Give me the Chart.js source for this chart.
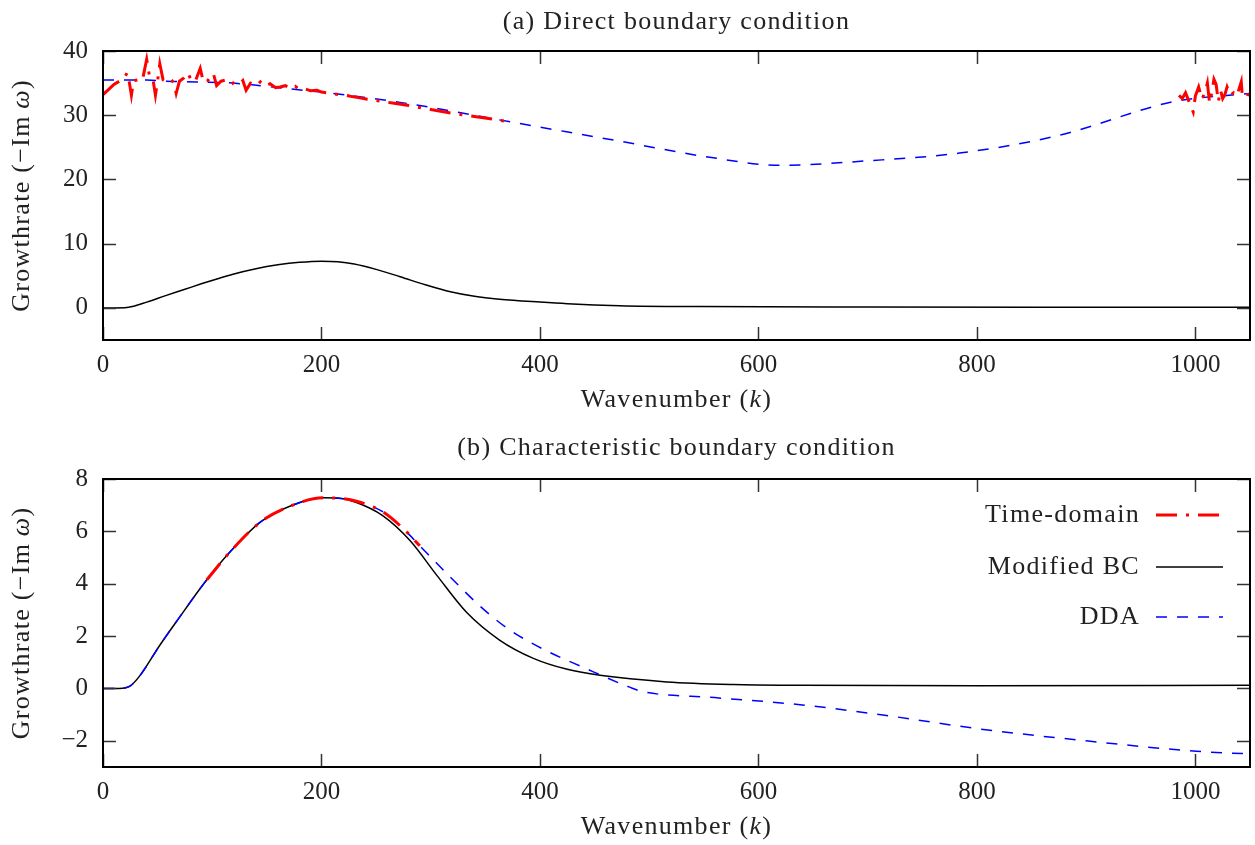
<!DOCTYPE html>
<html>
<head>
<meta charset="utf-8">
<script src="https://cdn.jsdelivr.net/npm/chart.js@4.4.1/dist/chart.umd.min.js"></script>
<style>
  body { margin: 0; background: #fff; width: 1255px; height: 845px; overflow: hidden; }
  .panel { position: absolute; left: 0; width: 1255px; }
</style>
</head>
<body>
<div class="panel" style="top:0;height:422px"><canvas id="chartA" width="1255" height="422"></canvas></div>
<div class="panel" style="top:422px;height:423px"><canvas id="chartB" width="1255" height="423"></canvas></div>
<script>
// tick labels
const kTicks = [0, 200, 400, 600, 800, 1000];
const gTicksA = [0, 10, 20, 30, 40];
const gTicksB = [-2, 0, 2, 4, 6, 8];

// (a) direct boundary condition
const kA_mod = [0, 10, 20, 28, 40, 58, 75, 90, 105, 119, 140, 160, 180, 200, 215, 230, 250, 272, 295, 318, 340, 363, 400, 425, 473, 546, 700, 850, 1050];
const gA_mod = [0, 0, 0.02, 0.25, 0.9, 1.95, 2.9, 3.75, 4.55, 5.25, 6.1, 6.7, 7.1, 7.28, 7.2, 6.85, 6.0, 4.85, 3.6, 2.5, 1.8, 1.35, 0.9, 0.65, 0.35, 0.2, 0.12, 0.1, 0.1];

const kA_dda = [0, 40, 58, 119, 165, 210, 272, 299, 375, 475, 550, 620, 700, 784, 876, 967, 986, 1050];
const gA_dda = [35.5, 35.5, 35.3, 35.0, 34.2, 33.4, 32.0, 31.25, 28.9, 25.9, 23.6, 22.2, 22.9, 24.1, 26.9, 31.6, 32.3, 33.4];

const kA_td = [0, 5, 10, 15, 19, 22, 24, 26, 28, 32, 36, 40, 43, 46, 48, 50, 52, 55, 58, 62, 65, 67, 70, 74, 78, 81, 85, 89, 92, 96,
  101, 104, 108, 113, 117, 121, 125, 128, 131, 135, 140, 144, 148, 153, 158, 162, 167, 172, 176, 180, 185, 190, 196, 200, 205,
  210, 216, 222, 228, 235, 242, 250, 265, 280, 300, 320, 340, 360, 375, 680,
  985, 988, 991, 994, 998, 1000, 1003, 1006, 1009, 1011, 1013, 1015, 1017, 1019, 1021, 1023, 1025, 1027, 1029, 1032, 1035, 1038, 1042, 1043, 1046, 1050];
const gA_td = [33.2, 34.0, 34.8, 35.3, 35.6, 36.6, 35.2, 33.1, 35.4, 35.5, 35.4, 38.7, 35.6, 35.3, 33.1, 35.4, 38.0, 35.5, 35.2, 35.6, 35.0, 33.4, 35.3, 35.8, 36.6, 35.2, 35.5, 37.3, 35.1, 35.4,
  36.5, 34.6, 35.3, 35.5, 34.8, 35.2, 34.9, 35.4, 33.9, 35.0, 34.6, 35.2, 34.5, 34.9, 34.3, 34.4, 34.6, 34.1, 34.5, 34.0, 34.1, 33.8, 33.9, 33.6, 33.5,
  33.4, 33.2, 33.1, 32.9, 32.7, 32.5, 32.3, 31.9, 31.5, 30.9, 30.3, 29.8, 29.3, 28.9, null,
  33.1, 32.6, 33.5, 32.2, 30.5, 33.0, 34.4, 32.5, 33.6, 35.0, 31.9, 33.5, 35.6, 34.8, 32.1, 33.9, 32.6, 33.2, 34.4, 33.1, 33.5, 33.0, 35.2, 32.9, 33.3, 33.1];

// (b) characteristic boundary condition
const kB_mod = [0, 15, 25, 34, 52, 68, 95, 116, 144, 171, 202, 215, 232, 256, 281, 306, 333, 363, 394, 425, 455, 516, 577, 638, 800, 1050];
const gB_mod = [0, 0, 0.1, 0.5, 1.65, 2.6, 4.15, 5.2, 6.35, 6.96, 7.28, 7.27, 7.1, 6.6, 5.65, 4.3, 2.9, 1.85, 1.15, 0.73, 0.5, 0.25, 0.15, 0.12, 0.1, 0.12];

const kB_dda = [0, 15, 25, 34, 52, 68, 95, 116, 144, 171, 202, 232, 256, 275, 290, 318, 345, 370, 403, 440, 482, 494, 560, 638, 720, 803, 900, 1001, 1050];
const gB_dda = [0, 0, 0.1, 0.5, 1.65, 2.6, 4.15, 5.2, 6.35, 6.96, 7.28, 7.15, 6.75, 6.1, 5.45, 4.25, 3.15, 2.3, 1.5, 0.8, 0.05, -0.12, -0.35, -0.62, -1.05, -1.55, -2.0, -2.4, -2.5];

const kB_td = [95, 116, 144, 171, 202, 215, 232, 256, 275, 290];
const gB_td = [4.15, 5.2, 6.35, 6.96, 7.28, 7.27, 7.15, 6.75, 6.1, 5.45];

const FONT = '"Liberation Serif", "Times New Roman", serif';
const TEXT_SIZE = 26;
const RED_DASH = [21, 9, 3, 9];
const BLUE_DASH = [11, 10];

function pts(ks, gs) {
  return ks.map((k, i) => ({ x: k, y: gs[i] }));
}

function drawRich(ctx, parts, x, y, align) {
  ctx.letterSpacing = '1.3px';
  const widths = parts.map(p => {
    ctx.font = (p[1] ? 'italic ' : '') + TEXT_SIZE + 'px ' + FONT;
    return ctx.measureText(p[0]).width;
  });
  const total = widths.reduce((a, b) => a + b, 0);
  let cx = align === 'right' ? x - total : x - total / 2;
  parts.forEach((p, i) => {
    ctx.font = (p[1] ? 'italic ' : '') + TEXT_SIZE + 'px ' + FONT;
    ctx.fillText(p[0], cx, y);
    cx += widths[i];
  });
  ctx.letterSpacing = '0px';
}

// frame with inward ticks on all four sides, titles and the key
const framePlugin = {
  id: 'frame',
  afterDatasetsDraw(chart, args, opts) {
    const { ctx, chartArea: a, scales: { x, y } } = chart;
    ctx.save();
    ctx.strokeStyle = '#333';
    ctx.lineWidth = 1.5;
    const tl = 13;
    ctx.beginPath();
    x.ticks.forEach(t => {
      const px = Math.round(x.getPixelForValue(t.value)) + 0.5;
      ctx.moveTo(px, a.bottom); ctx.lineTo(px, a.bottom - tl);
      ctx.moveTo(px, a.top); ctx.lineTo(px, a.top + tl);
    });
    y.ticks.forEach(t => {
      const py = Math.round(y.getPixelForValue(t.value)) + 0.5;
      ctx.moveTo(a.left, py); ctx.lineTo(a.left + tl, py);
      ctx.moveTo(a.right, py); ctx.lineTo(a.right - tl, py);
    });
    ctx.stroke();
    ctx.strokeStyle = '#000';
    ctx.lineWidth = 2;
    ctx.strokeRect(a.left, a.top, a.right - a.left, a.bottom - a.top);

    ctx.fillStyle = '#222';
    ctx.textBaseline = 'middle';
    const cx = (a.left + a.right) / 2;
    drawRich(ctx, [[opts.title, false]], cx, opts.titleY);
    drawRich(ctx, [['Wavenumber (', false], ['k', true], [')', false]], cx, a.bottom + 60);
    ctx.save();
    ctx.translate(22, (a.top + a.bottom) / 2);
    ctx.rotate(-Math.PI / 2);
    drawRich(ctx, [['Growthrate (\u2212Im\u2009', false], ['\u03c9', true], [')', false]], 0, 0);
    ctx.restore();

    if (opts.keyRows) {
      chart.data.datasets.forEach((ds, i) => {
        const ry = opts.keyRows[i];
        drawRich(ctx, [[ds.label, false]], 1140, ry, 'right');
        ctx.beginPath();
        ctx.strokeStyle = ds.borderColor;
        ctx.lineWidth = ds.borderWidth;
        ctx.setLineDash(ds.borderDash || []);
        ctx.moveTo(1156, ry);
        ctx.lineTo(1223, ry);
        ctx.stroke();
        ctx.setLineDash([]);
      });
    }
    ctx.restore();
  }
};

function makeChart(id, cfg) {
  const tickFont = { family: FONT, size: 25 };
  return new Chart(document.getElementById(id), {
    type: 'line',
    data: {
      datasets: [
        {
          label: 'Time-domain', data: pts(cfg.tdK, cfg.tdG), borderColor: '#ff0000', borderWidth: 3,
          borderDash: RED_DASH, tension: 0, cubicInterpolationMode: cfg.tdSmooth ? 'monotone' : 'default', spanGaps: false, order: 1
        },
        {
          label: 'Modified BC', data: pts(cfg.modK, cfg.modG), borderColor: '#000000', borderWidth: 1.5,
          cubicInterpolationMode: 'monotone', order: 3
        },
        {
          label: 'DDA', data: pts(cfg.ddaK, cfg.ddaG), borderColor: '#0000ff', borderWidth: 1.5,
          borderDash: BLUE_DASH, cubicInterpolationMode: 'monotone', order: 2
        }
      ]
    },
    options: {
      responsive: false,
      animation: false,
      devicePixelRatio: 1,
      elements: { point: { radius: 0 } },
      layout: { padding: { left: 0, right: 5, top: cfg.plotTop, bottom: 0 } },
      plugins: {
        legend: { display: false },
        tooltip: { enabled: false },
        title: { display: false },
        frame: { title: cfg.title, titleY: cfg.titleY, keyRows: cfg.keyRows }
      },
      scales: {
        x: {
          type: 'linear', min: 0, max: 1050,
          grid: { display: false, drawTicks: false }, border: { display: false },
          afterBuildTicks: s => { s.ticks = kTicks.map(v => ({ value: v })); },
          afterFit: s => { s.height = cfg.xAxisH; },
          ticks: { color: '#222', font: tickFont, padding: 10, maxRotation: 0, callback: v => String(v) }
        },
        y: {
          type: 'linear', min: cfg.yMin, max: cfg.yMax,
          grid: { display: false, drawTicks: false }, border: { display: false },
          afterBuildTicks: s => { s.ticks = cfg.yTicks.map(v => ({ value: v })); },
          afterFit: s => { s.width = 103; },
          ticks: { color: '#222', font: tickFont, padding: 15, callback: v => String(v).replace('-', '\u2212') }
        }
      }
    },
    plugins: [framePlugin]
  });
}

makeChart('chartA', {
  title: '(a) Direct boundary condition', titleY: 22, plotTop: 51,
  xAxisH: 422 - 340, yMin: -5, yMax: 40, yTicks: gTicksA, keyRows: null,
  tdK: kA_td, tdG: gA_td, tdSmooth: false,
  modK: kA_mod, modG: gA_mod, ddaK: kA_dda, ddaG: gA_dda
});

makeChart('chartB', {
  title: '(b) Characteristic boundary condition', titleY: 26, plotTop: 57,
  xAxisH: 423 - 345, yMin: -3, yMax: 8, yTicks: gTicksB, keyRows: [93, 145, 195],
  tdK: kB_td, tdG: gB_td, tdSmooth: true,
  modK: kB_mod, modG: gB_mod, ddaK: kB_dda, ddaG: gB_dda
});
</script>
</body>
</html>
